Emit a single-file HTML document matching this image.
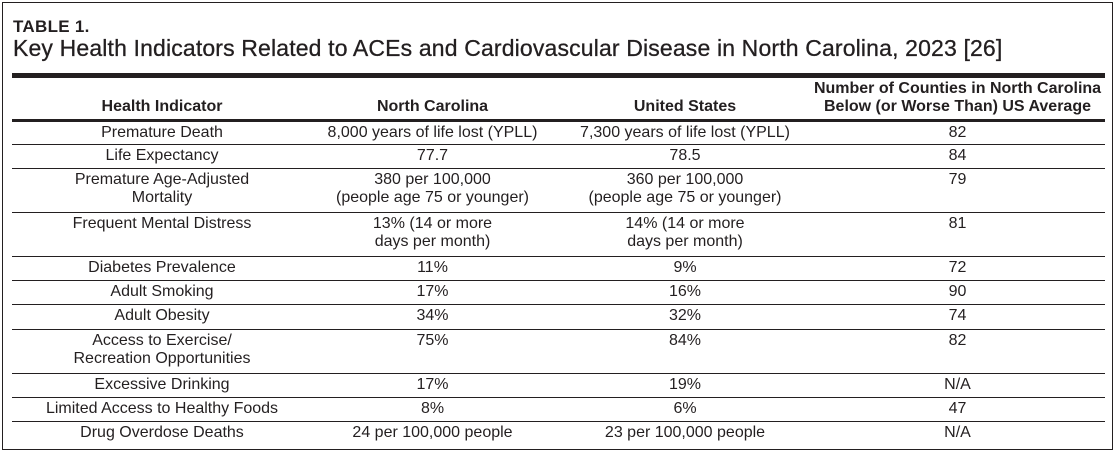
<!DOCTYPE html>
<html><head><meta charset="utf-8">
<style>
html,body{margin:0;padding:0;background:#fff}
body{width:1116px;height:453px;position:relative;overflow:hidden;font-family:"Liberation Sans",Arial,sans-serif;color:#231f20}
#frame{position:absolute;left:2px;top:2px;width:1109px;height:446px;border:1.5px solid #231f20}
.t1{position:absolute;left:13px;top:17px;font-size:17px;font-weight:bold;letter-spacing:0.3px}
.t2{position:absolute;left:13px;top:35px;font-size:23px;white-space:nowrap;letter-spacing:0.15px;-webkit-text-stroke:0.3px #231f20}
.rule{position:absolute;left:12px;width:1093px;background:#231f20}
.cell{position:absolute;text-align:center;font-size:16px;line-height:18px;white-space:nowrap}
.hd{font-weight:bold}
</style></head><body>
<div id="frame"></div>
<div class="t1">TABLE 1.</div>
<div class="t2">Key Health Indicators Related to ACEs and Cardiovascular Disease in North Carolina, 2023 [26]</div>
<div class="rule" style="top:73px;height:5px"></div>
<div class="rule" style="top:119px;height:3px"></div>
<div id="tbl"></div>
<script>
const cols=[[12,300],[305,255],[560,250],[810,295]];
const headers=["Health Indicator","North Carolina","United States","Number of Counties in North Carolina<br>Below (or Worse Than) US Average"];
const rows=[
["Premature Death","8,000 years of life lost (YPLL)","7,300 years of life lost (YPLL)","82"],
["Life Expectancy","77.7","78.5","84"],
["Premature Age-Adjusted<br>Mortality","380 per 100,000<br>(people age 75 or younger)","360 per 100,000<br>(people age 75 or younger)","79"],
["Frequent Mental Distress","13% (14 or more<br>days per month)","14% (14 or more<br>days per month)","81"],
["Diabetes Prevalence","11%","9%","72"],
["Adult Smoking","17%","16%","90"],
["Adult Obesity","34%","32%","74"],
["Access to Exercise/<br>Recreation Opportunities","75%","84%","82"],
["Excessive Drinking","17%","19%","N/A"],
["Limited Access to Healthy Foods","8%","6%","47"],
["Drug Overdose Deaths","24 per 100,000 people","23 per 100,000 people","N/A"]
];
const rowTops=[122,145,169,213,257,281,305,330,374,398,422];
const rowBottoms=[144,168,212,256,280,304,329,373,397,421,447];
const tb=document.getElementById('tbl');
headers.forEach((h,i)=>{
 const d=document.createElement('div');
 d.className='cell hd';
 
 
 d.style.left=cols[i][0]+'px';d.style.width=cols[i][1]+'px';
 d.style.top=(i===3?80:98)+'px';
 d.innerHTML=h;tb.appendChild(d);
});
rows.forEach((r,ri)=>{
 r.forEach((c,ci)=>{
  const d=document.createElement('div');
  d.className='cell';
  
  
  d.style.left=cols[ci][0]+'px';d.style.width=cols[ci][1]+'px';
  d.style.top=(rowTops[ri]+2)+'px';
  d.innerHTML=c;tb.appendChild(d);
 });
 if(ri<rows.length-1){
  const l=document.createElement('div');
  l.className='rule';
  
  
  l.style.top=rowBottoms[ri]+'px';l.style.height='1px';
  tb.appendChild(l);
 }
});
</script>
</body></html>
